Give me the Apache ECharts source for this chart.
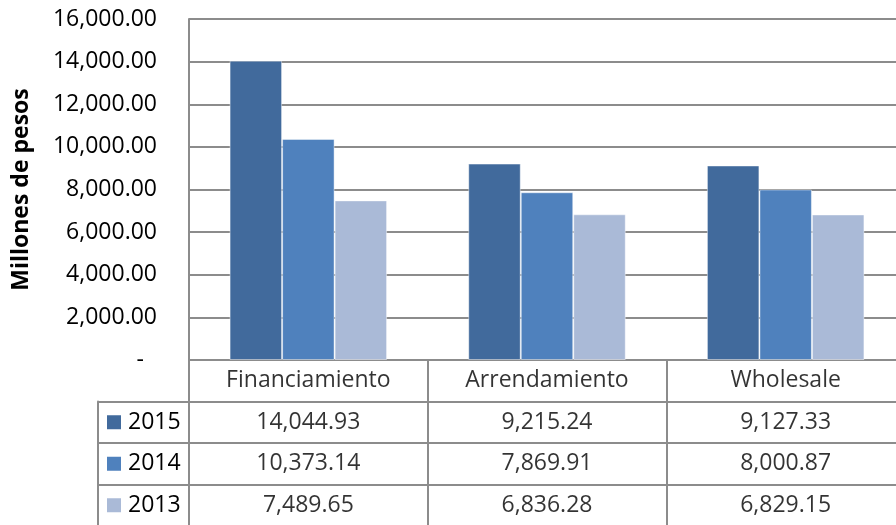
<!DOCTYPE html>
<html>
<head>
<meta charset="utf-8">
<script src="https://cdn.jsdelivr.net/npm/echarts@6/dist/echarts.min.js"></script>
<style>
html,body{margin:0;padding:0;background:#fff;}
#chart{width:896px;height:525px;}
</style>
</head>
<body>
<div id="chart"></div>
<script>
const categories = ['Financiamiento', 'Arrendamiento', 'Wholesale'];
const years = ['2015', '2014', '2013'];
const values2015 = [14044.93, 9215.24, 9127.33];
const values2014 = [10373.14, 7869.91, 8000.87];
const values2013 = [7489.65, 6836.28, 6829.15];
const yMin = 0, yMax = 16000, yInterval = 2000;
const yTitle = 'Millones de pesos';

const seriesValues = [values2015, values2014, values2013];
const colors = ['#416A9C', '#4F81BD', '#AABAD7'];
const lineColor = '#8c8c8c';
const font = 'Open Sans';

function fmt(v) {
  return v.toLocaleString('en-US', {minimumFractionDigits: 2, maximumFractionDigits: 2});
}

// table cells
const headerKey = ' ';
const tableRows = [headerKey].concat(years);
const cellData = [];
categories.forEach((c, i) => {
  cellData.push([c, headerKey, c]);
  years.forEach((y, r) => cellData.push([c, y, fmt(seriesValues[r][i])]));
});

const legendRich = {t: {fontSize: 23, fontFamily: font, color: '#000', padding: [0, 0, 0, 7]}};
colors.forEach((col, i) => {
  legendRich['s' + i] = {width: 14, height: 14, backgroundColor: col};
});

const chart = echarts.init(document.getElementById('chart'), null, {renderer: 'canvas'});
chart.setOption({
  animation: false,
  textStyle: {fontFamily: font},
  grid: [
    {left: 189, top: 19, width: 716, height: 341, outerBoundsMode: 'none', containLabel: false},
    {left: 189, top: 360, width: 716, height: 166, outerBoundsMode: 'none', containLabel: false},
    {left: 98, top: 401.5, width: 91, height: 124.5, outerBoundsMode: 'none', containLabel: false}
  ],
  xAxis: [
    {type: 'category', gridIndex: 0, data: categories,
     axisLine: {lineStyle: {color: lineColor, width: 2}},
     axisTick: {show: false}, axisLabel: {show: false}},
    {type: 'category', gridIndex: 1, data: categories, position: 'top',
     axisLine: {show: false}, axisTick: {show: false}, axisLabel: {show: false},
     splitLine: {show: true, lineStyle: {color: lineColor, width: 2}}},
    {type: 'value', gridIndex: 2, show: false, min: 0, max: 1}
  ],
  yAxis: [
    {type: 'value', gridIndex: 0, min: yMin, max: yMax, interval: yInterval,
     axisLine: {show: true, lineStyle: {color: lineColor, width: 2}},
     axisTick: {show: false},
     splitLine: {lineStyle: {color: lineColor, width: 2}},
     axisLabel: {fontSize: 23, color: '#000', margin: 32, fontFamily: font,
       formatter: v => v === 0 ? '{z|-}' : fmt(v),
       rich: {z: {fontSize: 23, fontFamily: font, color: '#000', padding: [0, 13, 0, 0]}}},
     name: yTitle, nameLocation: 'middle', nameGap: 156, nameRotate: 90,
     nameTextStyle: {fontSize: 23, fontWeight: 'bold', color: '#000', fontFamily: font}},
    {type: 'category', gridIndex: 1, data: tableRows, inverse: true,
     axisLine: {show: true, lineStyle: {color: lineColor, width: 2}},
     axisTick: {show: false}, axisLabel: {show: false},
     splitLine: {show: true, lineStyle: {color: lineColor, width: 2}}},
    {type: 'category', gridIndex: 2, data: years, inverse: true,
     axisLine: {show: true, lineStyle: {color: lineColor, width: 2}},
     axisTick: {show: false},
     axisLabel: {inside: true, margin: 9,
       formatter: (v, i) => '{s' + i + '|}{t|' + v + '}', rich: legendRich},
     splitLine: {show: true, lineStyle: {color: lineColor, width: 2}}}
  ],
  series: years.map((y, i) => ({
    name: y, type: 'bar', xAxisIndex: 0, yAxisIndex: 0,
    data: seriesValues[i],
    barGap: '0%', barCategoryGap: '34%',
    itemStyle: {color: colors[i], borderColor: 'rgba(255,255,255,0.45)', borderWidth: 1}
  })).concat([{
    type: 'scatter', xAxisIndex: 1, yAxisIndex: 1, data: cellData,
    symbolSize: 1, itemStyle: {color: 'rgba(0,0,0,0)'}, silent: true,
    encode: {x: 0, y: 1},
    label: {show: true, position: 'inside', color: '#000', fontSize: 23, fontFamily: font,
      formatter: p => p.value[2]}
  }])
});
</script>
</body>
</html>
